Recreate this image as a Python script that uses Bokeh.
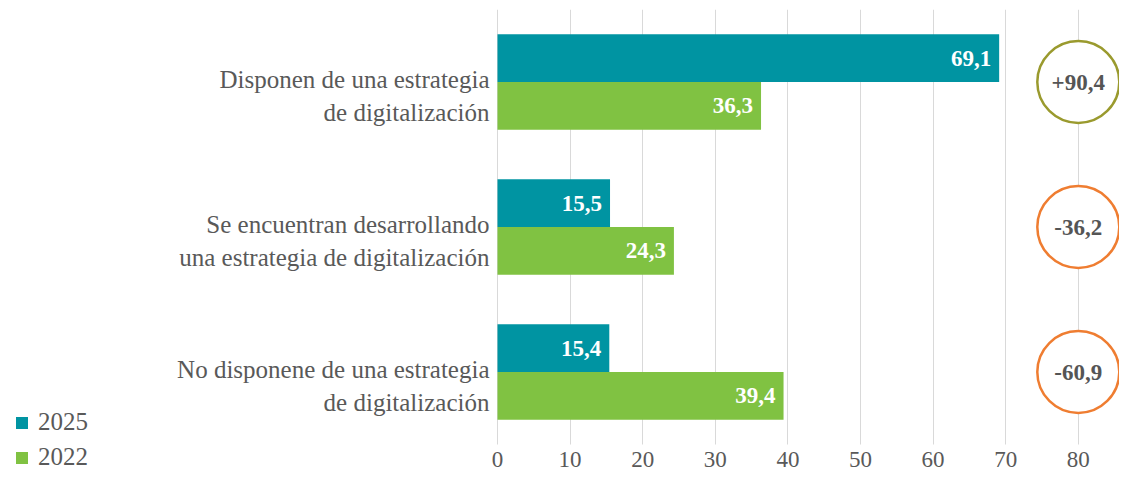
from bokeh.plotting import figure
from bokeh.models import Range1d, ColumnDataSource, Legend, LegendItem, FixedTicker
from bokeh.transform import dodge
from bokeh.core.properties import value
from bokeh.embed import file_html
from bokeh.resources import INLINE

categories = [
    "Disponen de una estrategia\nde digitalización",
    "Se encuentran desarrollando\nuna estrategia de digitalización",
    "No disponene de una estrategia\nde digitalización",
]
v2025 = [69.1, 15.5, 15.4]
v2022 = [36.3, 24.3, 39.4]
change_labels = ["+90,4", "-36,2", "-60,9"]
circle_colors = ["#9a9a2e", "#ef7d31", "#ef7d31"]
ticks = [0, 10, 20, 30, 40, 50, 60, 70, 80]

FONT = "Times New Roman"
GRAY = "#595959"
TEAL = "#0094a2"
GREEN = "#80c242"
CIRCLE_AT = 80

def fmt(v):
    return f"{v:.1f}".replace(".", ",")

n = len(categories)
ypos = [n - 1 - i for i in range(n)]  # first category on top

src = ColumnDataSource(dict(
    cat=categories, y=ypos, v2025=v2025, v2022=v2022,
    l2025=[fmt(v) for v in v2025], l2022=[fmt(v) for v in v2022],
    change=change_labels, ccol=circle_colors,
    cx=[CIRCLE_AT] * n, lx=[0] * n,
))

SCALE = 7.26
x0 = -497 / SCALE
x1 = (1119 - 497) / SCALE
y_top = n - 0.5
y_bottom = y_top - 463 / 145.0

p = figure(width=1119, height=472,
           x_range=Range1d(x0, x1), y_range=Range1d(y_bottom, y_top),
           output_backend="svg", toolbar_location=None,
           min_border_left=0, min_border_right=0, min_border_top=9, min_border_bottom=0)
p.outline_line_color = None
p.background_fill_color = "white"
p.border_fill_color = "white"

r25 = p.hbar(y=dodge("y", 0.165), right="v2025", left=0, height=0.33,
             source=src, fill_color=TEAL, line_color=None)
r22 = p.hbar(y=dodge("y", -0.165), right="v2022", left=0, height=0.33,
             source=src, fill_color=GREEN, line_color=None)

p.text(x="lx", y="y", text="cat", source=src, text_align="right", text_baseline="middle",
       x_offset=-8, y_offset=14, text_line_height=1.2,
       text_font=value(FONT), text_font_size="25px", text_color=GRAY)

p.text(x="v2025", y=dodge("y", 0.165), text="l2025", source=src,
       text_align="right", text_baseline="middle", x_offset=-8,
       text_font=value(FONT), text_font_style="bold", text_font_size="23px", text_color="white")
p.text(x="v2022", y=dodge("y", -0.165), text="l2022", source=src,
       text_align="right", text_baseline="middle", x_offset=-8,
       text_font=value(FONT), text_font_style="bold", text_font_size="23px", text_color="white")

p.scatter(x="cx", y="y", source=src, marker="circle", size=82,
          fill_color="white", line_color="ccol", line_width=2.5)
p.text(x="cx", y="y", text="change", source=src, text_align="center", text_baseline="middle",
       text_font=value(FONT), text_font_style="bold", text_font_size="23px", text_color="#555555")

p.xaxis.ticker = FixedTicker(ticks=ticks)
p.xaxis.fixed_location = -0.5
p.xaxis.axis_line_color = None
p.xaxis.major_tick_line_color = None
p.xaxis.minor_tick_line_color = None
p.xaxis.major_label_text_font = FONT
p.xaxis.major_label_text_font_size = "23px"
p.xaxis.major_label_text_color = GRAY
p.xaxis.major_label_standoff = 1
p.yaxis.visible = False

p.ygrid.grid_line_color = None
p.xgrid.grid_line_color = "#d9d9d9"
p.xgrid.grid_line_width = 1
p.xgrid.cross_bounds = (-0.5, y_top)

legend = Legend(items=[LegendItem(label="2025", renderers=[r25]),
                       LegendItem(label="2022", renderers=[r22])],
                location=(14, 1), orientation="vertical",
                glyph_width=15, glyph_height=15, label_standoff=9, spacing=7,
                padding=0, margin=0, border_line_color=None, background_fill_alpha=0,
                label_text_font=FONT, label_text_font_size="25px", label_text_color=GRAY)
p.add_layout(legend, "center")

open("out.html", "w").write(file_html(p, INLINE))
